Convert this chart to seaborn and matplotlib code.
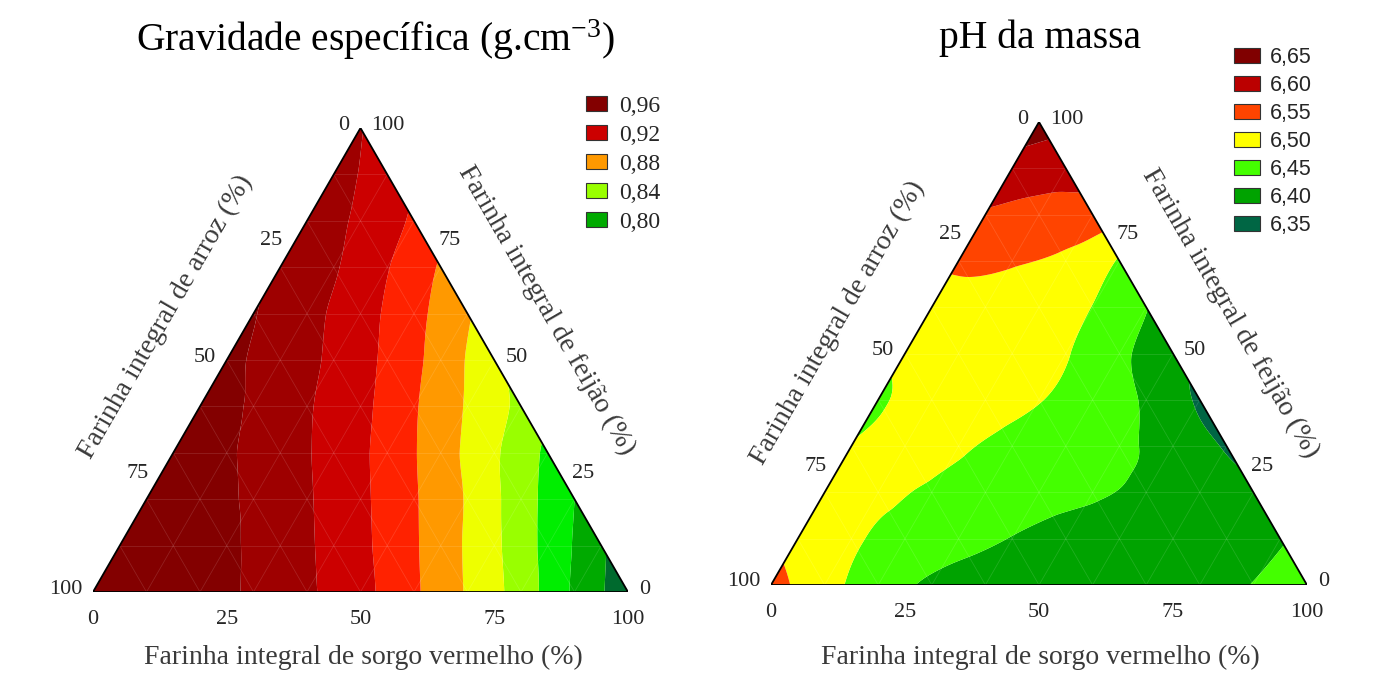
import numpy as np
import matplotlib
matplotlib.use("Agg")
import matplotlib.pyplot as plt
import matplotlib.tri as mtri
from matplotlib.patches import Patch
import seaborn as sns

# malha da mistura: feijao (%) por linha, sorgo de 0 a 100-feijao em passos de 10
feijao = [0, 10, 20, 30, 40, 50, 60, 70, 80, 90, 100]
passo_sorgo = 10

# gravidade especifica (uma lista por nivel de feijao)
gravidade = [
    [0.978, 0.974, 0.968, 0.957, 0.943, 0.926, 0.903, 0.878, 0.851, 0.817, 0.787],
    [0.976, 0.971, 0.963, 0.950, 0.934, 0.914, 0.890, 0.864, 0.834, 0.803],
    [0.973, 0.966, 0.957, 0.942, 0.924, 0.902, 0.878, 0.849, 0.820],
    [0.969, 0.962, 0.949, 0.933, 0.913, 0.889, 0.863, 0.836],
    [0.966, 0.958, 0.942, 0.925, 0.902, 0.878, 0.855],
    [0.964, 0.952, 0.936, 0.916, 0.892, 0.865],
    [0.961, 0.946, 0.928, 0.906, 0.882],
    [0.957, 0.942, 0.921, 0.898],
    [0.953, 0.936, 0.917],
    [0.948, 0.930],
    [0.941],
]

# pH da massa
ph = [
    [6.575, 6.515, 6.477, 6.440, 6.420, 6.410, 6.410, 6.415, 6.425, 6.452, 6.470],
    [6.530, 6.505, 6.484, 6.466, 6.448, 6.430, 6.420, 6.415, 6.420, 6.445],
    [6.510, 6.508, 6.493, 6.481, 6.468, 6.456, 6.440, 6.420, 6.410],
    [6.502, 6.520, 6.506, 6.490, 6.472, 6.455, 6.435, 6.395],
    [6.490, 6.520, 6.515, 6.502, 6.474, 6.445, 6.390],
    [6.515, 6.525, 6.520, 6.503, 6.460, 6.420],
    [6.530, 6.535, 6.520, 6.499, 6.452],
    [6.560, 6.555, 6.540, 6.495],
    [6.595, 6.585, 6.580],
    [6.630, 6.615],
    [6.680],
]

grav_niveis = [0.70, 0.80, 0.82, 0.84, 0.86, 0.88, 0.90, 0.92, 0.94, 0.96, 1.05]
grav_cores = ["#006a2e", "#00aa00", "#00ee00", "#99ff00", "#eeff00",
              "#ff9900", "#ff2200", "#cc0000", "#9e0000", "#830000"]
grav_leg_rot = ["0,96", "0,92", "0,88", "0,84", "0,80"]
grav_leg_cor = ["#830000", "#cc0000", "#ff9900", "#99ff00", "#00aa00"]

ph_niveis = [6.20, 6.40, 6.45, 6.50, 6.55, 6.60, 6.65, 6.90]
ph_cores = ["#006644", "#00a300", "#44ff00", "#ffff00", "#ff4400", "#bb0000", "#800000"]
ph_leg_rot = ["6,65", "6,60", "6,55", "6,50", "6,45", "6,40", "6,35"]
ph_leg_cor = ["#800000", "#bb0000", "#ff4400", "#ffff00", "#44ff00", "#00a300", "#006644"]

marcas = [0, 25, 50, 75, 100]

sns.set_theme(style="white")
plt.rcParams["font.family"] = ["Liberation Serif", "DejaVu Serif"]
plt.rcParams["mathtext.fontset"] = "custom"
plt.rcParams["mathtext.rm"] = "Liberation Serif"

H = np.sqrt(3) / 2


def tern(s, f):
    # sorgo e feijao em % -> coordenadas cartesianas
    s = np.asarray(s, float) / 100
    f = np.asarray(f, float) / 100
    return s + f / 2, f * H


def malha(valores):
    ss, ff, zz = [], [], []
    for f, linha in zip(feijao, valores):
        for i, z in enumerate(linha):
            ss.append(i * passo_sorgo)
            ff.append(f)
            zz.append(z)
    x, y = tern(ss, ff)
    return x, y, np.array(zz)


def ternario(ax, valores, niveis, cores, leg_rot, leg_cor, titulo, tit_off, leg_pos,
             leg_fonte, leg_kw, tipo):
    x, y, z = malha(valores)
    tri = mtri.Triangulation(x, y)
    interp = mtri.CubicTriInterpolator(tri, z, kind=tipo)
    tri, z = mtri.UniformTriRefiner(tri).refine_field(z, triinterpolator=interp, subdiv=4)
    ax.tricontourf(tri, z, levels=niveis, colors=cores, antialiased=True)

    # linhas de grade tenues
    for k in range(10, 100, 10):
        for xs, ys in (tern([k, k], [0, 100 - k]), tern([0, 100 - k], [k, k]),
                       tern([0, 100 - k], [100 - k, 0])):
            ax.plot(xs, ys, color="white", lw=0.6, alpha=0.13)

    xs, ys = tern([0, 100, 0, 0], [0, 0, 100, 0])
    ax.plot(xs, ys, color="black", lw=1.3, solid_joinstyle="miter")

    fs = 16
    for m in marcas:
        ax.annotate(str(m), tern(m, 0), xytext=(0, -18), textcoords="offset pixels",
                    ha="center", va="top", fontsize=fs)
        ax.annotate(str(m), tern(0, 100 - m), xytext=(-11, 3), textcoords="offset pixels",
                    ha="right", va="center", fontsize=fs)
        ax.annotate(str(m), tern(100 - m, m), xytext=(11, 3), textcoords="offset pixels",
                    ha="left", va="center", fontsize=fs)

    tf = 20
    ax.annotate("Farinha integral de sorgo vermelho (%)", tern(50, 0), xytext=tit_off[0],
                textcoords="offset pixels", ha="center", va="center", fontsize=tf, color="#3a3a3a")
    ax.annotate("Farinha integral de arroz (%)", tern(0, 50), xytext=tit_off[1],
                textcoords="offset pixels", ha="center", va="center", fontsize=tf,
                rotation=60, rotation_mode="anchor", color="#3a3a3a")
    ax.annotate("Farinha integral de feijão (%)", tern(50, 50), xytext=tit_off[2],
                textcoords="offset pixels", ha="center", va="center", fontsize=tf,
                rotation=-60, rotation_mode="anchor", color="#3a3a3a")
    ax.annotate(titulo, tern(0, 100), xytext=tit_off[3], textcoords="offset pixels",
                ha="center", va="center", fontsize=28.5, color="black")

    alcas = [Patch(facecolor=c, edgecolor="#333333", lw=0.8) for c in leg_cor]
    ax.legend(alcas, leg_rot, loc="upper left", bbox_to_anchor=leg_pos,
              bbox_transform=ax.figure.transFigure, frameon=False, borderpad=0,
              prop=leg_fonte, **leg_kw)

    ax.set_xlim(0, 1)
    ax.set_ylim(0, H)
    ax.axis("off")


fig = plt.figure(figsize=(13.75, 6.93), dpi=100)
W, Hp = 1375, 693
ax1 = fig.add_axes([93 / W, (Hp - 592) / Hp, 535 / W, 464 / Hp])
ax2 = fig.add_axes([771 / W, (Hp - 585) / Hp, 536 / W, 463 / Hp])

ternario(ax1, gravidade, grav_niveis, grav_cores, grav_leg_rot, grav_leg_cor,
         "Gravidade específica (g.cm$\\mathregular{^{-3}}$)",
         [(3, -65), (-61, 43), (52, 50), (15, 88)],
         (574 / W, 1 - 84 / Hp), {"family": "Liberation Serif", "size": 17},
         dict(handlelength=0.88, handleheight=0.55, labelspacing=0.34, handletextpad=0.55),
         tipo="geom")
ternario(ax2, ph, ph_niveis, ph_cores, ph_leg_rot, ph_leg_cor,
         "pH da massa",
         [(1, -72), (-67, 31), (57, 40), (1, 84)],
         (1223 / W, 1 - 36 / Hp), {"family": "Liberation Sans", "size": 15.5},
         dict(handlelength=1.2, handleheight=0.72, labelspacing=0.325, handletextpad=0.5),
         tipo="min_E")

fig.savefig("out.png", dpi=100, facecolor="white")
